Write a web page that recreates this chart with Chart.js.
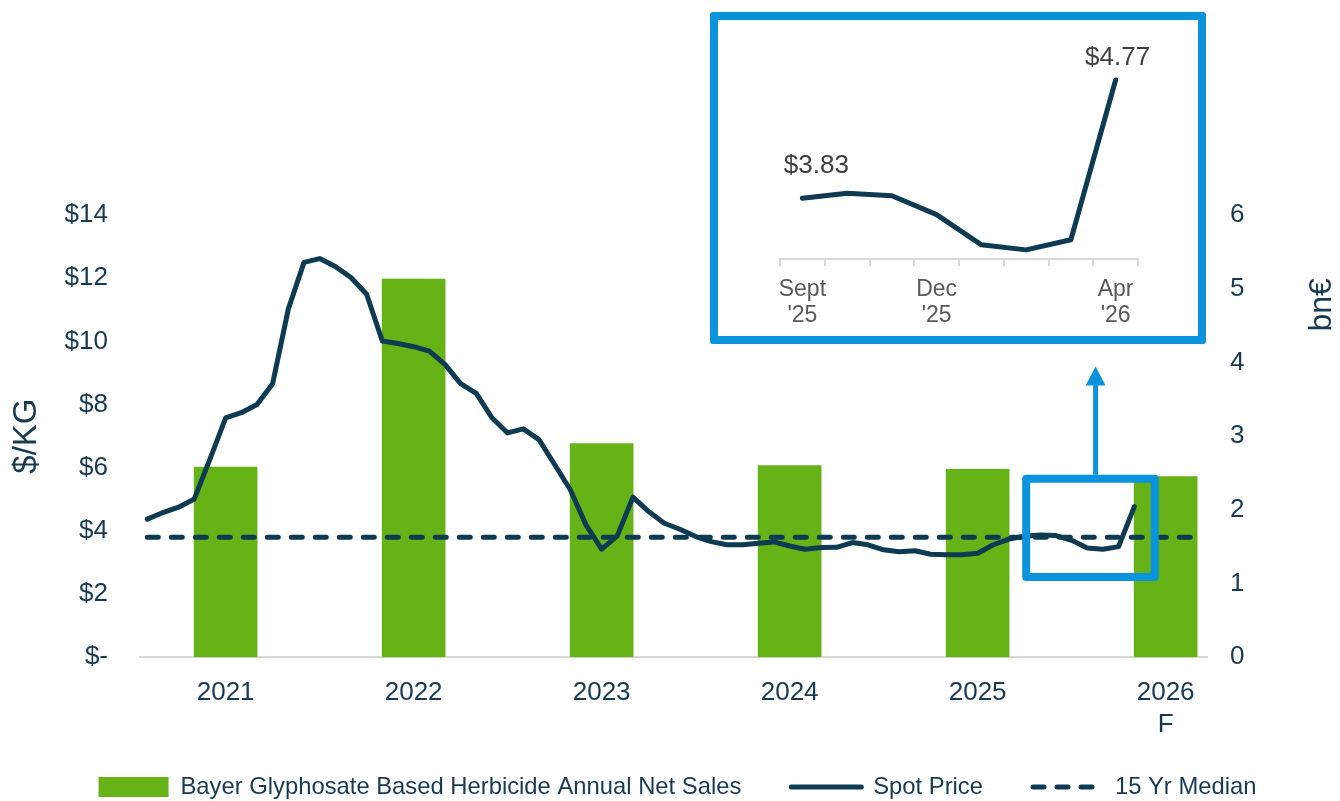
<!DOCTYPE html>
<html>
<head>
<meta charset="utf-8">
<script src="https://cdn.jsdelivr.net/npm/chart.js@4.4.1/dist/chart.umd.min.js"></script>
<style>
  html, body { margin: 0; padding: 0; background: #fff; }
  #wrap { position: relative; width: 1340px; height: 801px; }
  #mainChart { position: absolute; left: 0; top: 0; }
  #insetBox {
    position: absolute; left: 710px; top: 12px; width: 496px; height: 332px;
    box-sizing: border-box; border: 8px solid #0b94dd; border-radius: 3px; background: #fff;
  }
  #insetChart { position: absolute; left: 0; top: 0; }
</style>
</head>
<body>
<div id="wrap">
  <canvas id="mainChart" width="1340" height="801"></canvas>
  <div id="insetBox"><canvas id="insetChart" width="480" height="316"></canvas></div>
</div>
<script>
// annual net sales (bn€), bars sit in mid-year
const years = ["2021", "2022", "2023", "2024", "2025", "2026"];
const yearNotes = ["", "", "", "", "", "F"];
const netSales = [2.58, 5.13, 2.90, 2.60, 2.55, 2.45];

// monthly spot price $/KG, Jan 2021 -> Apr 2026
const spotPrice = [
  4.37, 4.58, 4.75, 5.01, 6.27, 7.58, 7.74, 8.00, 8.66, 11.02, 12.50, 12.62,
  12.37, 12.02, 11.49, 10.01, 9.93, 9.83, 9.69, 9.27, 8.66, 8.35, 7.58, 7.10,
  7.23, 6.89, 6.10, 5.30, 4.19, 3.42, 3.84, 5.07, 4.61, 4.24, 4.05, 3.82,
  3.66, 3.56, 3.56, 3.61, 3.65, 3.52, 3.42, 3.47, 3.48, 3.63, 3.56, 3.40,
  3.34, 3.37, 3.26, 3.24, 3.24, 3.29, 3.56, 3.74, 3.83, 3.87, 3.85, 3.70,
  3.46, 3.42, 3.50, 4.77
];
const medianPrice = 3.8;
const medianSpan = [0, 67];

// zoomed view
const insetMonths = ["Sept '25", "Oct '25", "Nov '25", "Dec '25", "Jan '26", "Feb '26", "Mar '26", "Apr '26"];
const insetShown = ["Sept '25", "Dec '25", "Apr '26"];

// highlighted region on the main chart (months / $)
const highlight = { from: 56.1, to: 64.3, low: 2.54, high: 5.65, arrowAt: 60.53, arrowTip: 9.2 };

const navy = "#0e3a52";
const textNavy = "#173a52";
const green = "#66b317";
const blue = "#0b94dd";

Chart.defaults.font.family = "'Liberation Sans', Arial, sans-serif";

const barPoints = netSales.map((v, i) => ({ x: i * 12 + 5, y: v }));
const pricePoints = spotPrice.map((v, i) => ({ x: i, y: v }));
const medianPoints = medianSpan.map((m) => ({ x: m, y: medianPrice }));

const overlay = {
  id: "overlay",
  afterLayout(chart) {
    // keep the wide legend gaps but pull the row up a bit
    chart.legend.top -= 12;
    chart.legend.bottom -= 12;
  },
  afterDraw(chart) {
    const { ctx, scales } = chart;
    const xs = scales.x, ys = scales.y;
    ctx.save();
    // titles
    ctx.fillStyle = textNavy;
    ctx.font = "33px 'Liberation Sans', Arial, sans-serif";
    ctx.textAlign = "center";
    ctx.textBaseline = "middle";
    ctx.translate(27, (chart.chartArea.top + chart.chartArea.bottom) / 2);
    ctx.rotate(-Math.PI / 2);
    ctx.fillText("$/KG", 0, 0);
    ctx.setTransform(1, 0, 0, 1, 0, 0);
    ctx.font = "32px 'Liberation Sans', Arial, sans-serif";
    ctx.translate(1322, scales.y1.getPixelForValue(4.78));
    ctx.rotate(-Math.PI / 2);
    ctx.fillText("bn€", 0, 0);
    ctx.setTransform(1, 0, 0, 1, 0, 0);

    // highlight box
    const x1 = xs.getPixelForValue(highlight.from);
    const x2 = xs.getPixelForValue(highlight.to);
    const y1 = ys.getPixelForValue(highlight.high);
    const y2 = ys.getPixelForValue(highlight.low);
    ctx.strokeStyle = blue;
    ctx.lineWidth = 8;
    ctx.lineJoin = "round";
    ctx.strokeRect(x1, y1, x2 - x1, y2 - y1);

    // arrow up to the inset
    const ax = xs.getPixelForValue(highlight.arrowAt);
    const tip = ys.getPixelForValue(highlight.arrowTip);
    ctx.lineWidth = 5;
    ctx.beginPath();
    ctx.moveTo(ax, y1 - 4);
    ctx.lineTo(ax, tip + 16);
    ctx.stroke();
    ctx.fillStyle = blue;
    ctx.beginPath();
    ctx.moveTo(ax, tip);
    ctx.lineTo(ax + 10, tip + 19);
    ctx.lineTo(ax - 10, tip + 19);
    ctx.closePath();
    ctx.fill();
    ctx.restore();
  },
};

new Chart(document.getElementById("mainChart"), {
  type: "bar",
  data: {
    datasets: [
      {
        type: "bar",
        label: "Bayer Glyphosate Based Herbicide Annual Net Sales",
        data: barPoints,
        yAxisID: "y1",
        backgroundColor: green,
        barThickness: 63,
        order: 3,
      },
      {
        type: "line",
        label: "Spot Price",
        data: pricePoints,
        yAxisID: "y",
        borderColor: navy,
        backgroundColor: navy,
        borderWidth: 5,
        pointRadius: 0,
        tension: 0,
        borderJoinStyle: "round",
        borderCapStyle: "round",
        order: 2,
      },
      {
        type: "line",
        label: "15 Yr Median",
        data: medianPoints,
        yAxisID: "y",
        borderColor: navy,
        backgroundColor: navy,
        borderWidth: 5,
        borderDash: [11, 13],
        borderCapStyle: "round",
        pointRadius: 0,
        order: 1,
      },
    ],
  },
  options: {
    responsive: false,
    animation: false,
    devicePixelRatio: 1,
    layout: { padding: { left: 15, right: 0, top: 215, bottom: -20 } },
    scales: {
      x: {
        type: "linear",
        min: -0.466,
        max: 67.64,
        offset: false,
        afterBuildTicks: (s) => {
          s.ticks = barPoints.map((p) => ({ value: p.x }));
        },
        afterFit: (s) => {
          s.height = 80;
        },
        ticks: {
          autoSkip: false,
          maxRotation: 0,
          padding: 19,
          color: textNavy,
          font: { size: 26, lineHeight: 1.25 },
          callback: (v) => {
            const i = barPoints.findIndex((p) => p.x === v);
            return yearNotes[i] ? [years[i], yearNotes[i]] : years[i];
          },
        },
        grid: { display: false, drawTicks: false },
        border: { display: true, color: "#d9d9d9", width: 2 },
      },
      y: {
        position: "left",
        min: 0,
        max: 14,
        afterFit: (s) => {
          s.width = 125;
        },
        ticks: {
          stepSize: 2,
          padding: 32,
          color: textNavy,
          font: { size: 26 },
          callback: (v) => (v === 0 ? "$-" : "$" + v),
        },
        grid: { display: false, drawTicks: false },
        border: { display: false },
      },
      y1: {
        position: "right",
        min: 0,
        max: 6,
        afterFit: (s) => {
          s.width = 133;
        },
        ticks: { stepSize: 1, padding: 23, color: textNavy, font: { size: 26 } },
        grid: { display: false, drawTicks: false },
        border: { display: false },
      },
    },
    plugins: {
      tooltip: { enabled: false },
      legend: {
        position: "bottom",
        labels: {
          usePointStyle: true,
          pointStyleWidth: 70,
          boxHeight: 20,
          padding: 50,
          color: textNavy,
          font: { size: 23.8 },
          sort: (a, b) => a.datasetIndex - b.datasetIndex,
          generateLabels: (chart) =>
            Chart.defaults.plugins.legend.labels.generateLabels(chart).map((item) => {
              if (item.datasetIndex === 0) {
                item.pointStyle = "rect";
                item.lineWidth = 0;
                item.fillStyle = green;
              } else {
                item.pointStyle = "line";
                item.lineWidth = 5;
                item.strokeStyle = navy;
                item.lineCap = "round";
                item.lineDash = item.datasetIndex === 2 ? [11, 13] : [];
              }
              return item;
            }),
        },
      },
    },
  },
  plugins: [overlay],
});

// inset chart
const insetPrice = spotPrice.slice(-insetMonths.length);

const callouts = {
  id: "callouts",
  afterDatasetsDraw(chart) {
    const { ctx } = chart;
    const pts = chart.getDatasetMeta(0).data;
    const first = pts[0], last = pts[pts.length - 1];
    ctx.save();
    ctx.fillStyle = "#404040";
    ctx.font = "26px 'Liberation Sans', Arial, sans-serif";
    ctx.textAlign = "center";
    ctx.textBaseline = "middle";
    ctx.fillText("$" + insetPrice[0].toFixed(2), first.x + 14, first.y - 32);
    ctx.fillText("$" + insetPrice[insetPrice.length - 1].toFixed(2), last.x + 2, last.y - 22);
    ctx.restore();
  },
};

new Chart(document.getElementById("insetChart"), {
  type: "line",
  data: {
    labels: insetMonths,
    datasets: [
      {
        data: insetPrice,
        borderColor: navy,
        borderWidth: 5,
        pointRadius: 0,
        tension: 0,
        borderJoinStyle: "round",
        borderCapStyle: "round",
      },
    ],
  },
  options: {
    responsive: false,
    animation: false,
    devicePixelRatio: 1,
    layout: { padding: { left: 62, right: 60, top: 30, bottom: 0 } },
    scales: {
      x: {
        offset: true,
        afterFit: (s) => {
          s.height = 76.7;
        },
        grid: {
          offset: true,
          drawOnChartArea: false,
          drawTicks: true,
          tickLength: 7,
          color: "#d9d9d9",
          lineWidth: 2,
        },
        border: { color: "#d9d9d9", width: 2 },
        ticks: {
          autoSkip: false,
          maxRotation: 0,
          padding: 10,
          color: "#595959",
          font: { size: 23, lineHeight: 1.13 },
          callback: (v, i) => {
            const lab = insetMonths[i];
            return insetShown.includes(lab) ? lab.split(" ") : "";
          },
        },
      },
      y: { display: false, min: 3.345, max: 5.008 },
    },
    plugins: { legend: { display: false }, tooltip: { enabled: false } },
  },
  plugins: [callouts],
});
</script>
</body>
</html>
